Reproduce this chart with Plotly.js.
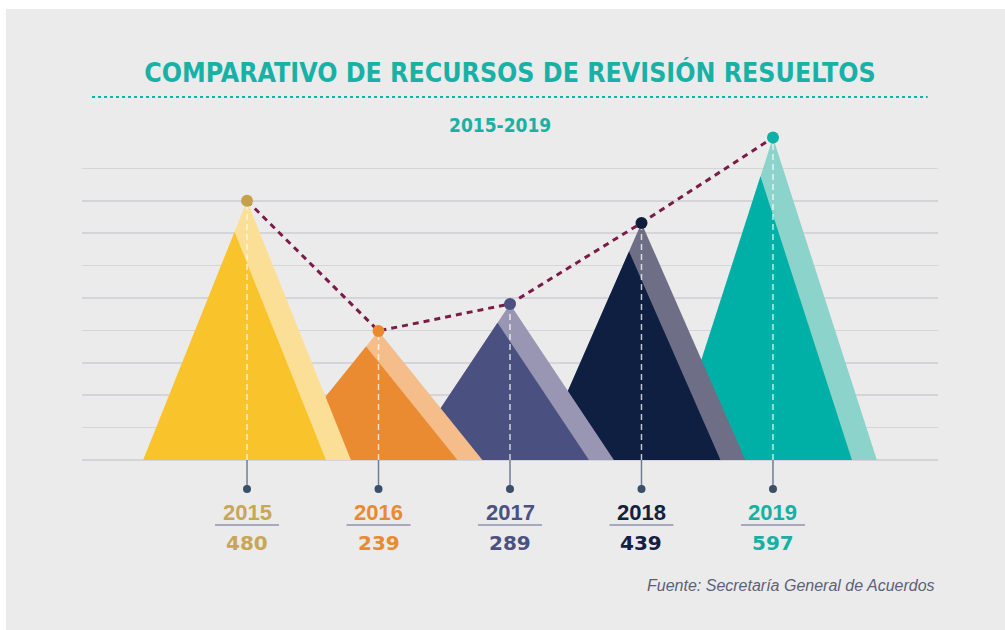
<!DOCTYPE html>
<html>
<head>
<meta charset="utf-8">
<script src="https://cdn.plot.ly/plotly-3.0.1.min.js"></script>
<style>
  html, body { margin: 0; padding: 0; background: #ffffff; }
  #chart { position: absolute; left: 6px; top: 9px; width: 999px; height: 621px; }
</style>
</head>
<body>
<div id="chart"></div>
<script>
// ---- data ----
const years = [2015, 2016, 2017, 2018, 2019];
const values = [480, 239, 289, 439, 597];
const yearLabels = ['2015', '2016', '2017', '2018', '2019'];
const mainColors = ['#f9c42b', '#ea8a31', '#4a5080', '#0e1f42', '#00b0a6'];
const lightColors = ['#fcdf97', '#f4bd8a', '#9996b4', '#6e6e86', '#8bd3cb'];
const dotColors = ['#c4a24c', '#ea8a2f', '#4b5180', '#111c3c', '#0db0a4'];
const labelColors = ['#c8a656', '#ea8a2f', '#4b5180', '#13203f', '#17b0a3'];
const gridVals = [0, 60, 120, 180, 240, 300, 360, 420, 480, 540];

// ---- style constants ----
const HW = 0.79;   // half base width of a peak, in x units
const K = 0.88;    // scale of the front (dark) triangle
const TEAL = '#18b1a5';

const traces = [];
// back-to-front: later years behind earlier years
for (let i = years.length - 1; i >= 0; i--) {
  const x = years[i], v = values[i];
  const L = x - HW;
  traces.push({
    type: 'scatter', mode: 'lines', fill: 'toself',
    x: [L, x, x + HW, L], y: [0, v, 0, 0],
    line: { width: 0, color: lightColors[i] }, fillcolor: lightColors[i],
    hoverinfo: 'skip', showlegend: false
  });
  traces.push({
    type: 'scatter', mode: 'lines', fill: 'toself',
    x: [L, L + K * HW, L + 2 * K * HW, L], y: [0, K * v, 0, 0],
    line: { width: 0, color: mainColors[i] }, fillcolor: mainColors[i],
    hoverinfo: 'skip', showlegend: false
  });
}
// white dashed center lines
for (let i = 0; i < years.length; i++) {
  traces.push({
    type: 'scatter', mode: 'lines',
    x: [years[i], years[i]], y: [0, values[i]],
    line: { color: 'rgba(255,255,255,0.75)', width: 1.5, dash: '6px,4px' },
    hoverinfo: 'skip', showlegend: false
  });
}
// maroon dashed trend line
traces.push({
  type: 'scatter', mode: 'lines',
  x: years, y: values,
  line: { color: '#7b1c48', width: 3, dash: '6px,5px' },
  hoverinfo: 'skip', showlegend: false
});
// apex dots
traces.push({
  type: 'scatter', mode: 'markers',
  x: years, y: values,
  marker: { color: dotColors, size: 12 },
  cliponaxis: false,
  hoverinfo: 'skip', showlegend: false
});

const shapes = [];
const annotations = [];
for (let i = 0; i < years.length; i++) {
  // connector below baseline
  shapes.push({
    type: 'line', xref: 'x', yref: 'y', ysizemode: 'pixel', yanchor: 0,
    x0: years[i], x1: years[i], y0: 0, y1: -28,
    line: { color: '#707d92', width: 1.5 }, layer: 'above'
  });
  shapes.push({
    type: 'circle', xref: 'x', yref: 'y', xsizemode: 'pixel', ysizemode: 'pixel',
    xanchor: years[i], yanchor: 0,
    x0: -4, x1: 4, y0: -25, y1: -33,
    fillcolor: '#3a4f68', line: { width: 0 }
  });
  // underline between year and value
  shapes.push({
    type: 'line', xref: 'x', yref: 'y', xsizemode: 'pixel', ysizemode: 'pixel',
    xanchor: years[i], yanchor: 0,
    x0: -32, x1: 32, y0: -65, y1: -65,
    line: { color: '#a8a9bf', width: 2 }
  });
  annotations.push({
    xref: 'x', yref: 'y', x: years[i], y: 0, yshift: -53,
    text: '<b>' + yearLabels[i] + '</b>', showarrow: false, xanchor: 'center', yanchor: 'middle',
    font: { family: 'Liberation Sans, Arial, sans-serif', size: 22, color: labelColors[i] }
  });
  annotations.push({
    xref: 'x', yref: 'y', x: years[i], y: 0, yshift: -83,
    text: '<b>' + String(values[i]) + '</b>', showarrow: false, xanchor: 'center', yanchor: 'middle',
    font: { family: 'DejaVu Sans, sans-serif', size: 20, color: labelColors[i] }
  });
}
// dotted rule under the title
shapes.push({
  type: 'line', xref: 'paper', yref: 'paper',
  x0: 0.0117, x1: 0.988, y0: 1.0702, y1: 1.0702,
  line: { color: TEAL, width: 2, dash: '3px,3px' }
});
annotations.push({
  xref: 'paper', yref: 'paper', x: 0.4883, y: 1.0106,
  text: '<b>2015-2019</b>', showarrow: false, xanchor: 'center', yanchor: 'middle',
  font: { family: 'DejaVu Sans Condensed, sans-serif', size: 19, color: TEAL }
});
annotations.push({
  xref: 'paper', yref: 'paper', x: 0.9988, y: 0.0319,
  text: '<i>Fuente: Secretaría General de Acuerdos</i>', showarrow: false,
  xanchor: 'right', yanchor: 'middle',
  font: { family: 'Liberation Sans, sans-serif', size: 16, color: '#5b6178' }
});

const layout = {
  width: 999, height: 621,
  margin: { l: 76, r: 67, t: 121, b: 30 },
  paper_bgcolor: '#ebebec', plot_bgcolor: '#ebebec',
  title: {
    text: '<b>COMPARATIVO DE RECURSOS DE REVISIÓN RESUELTOS</b>',
    x: 0.5045, xanchor: 'center', y: 0.898, yanchor: 'middle', yref: 'container',
    font: { family: 'DejaVu Sans Condensed, sans-serif', size: 26.5, color: TEAL }
  },
  xaxis: {
    range: [2013.745, 2020.255], showgrid: false, zeroline: false,
    showticklabels: false, ticks: '', fixedrange: true
  },
  yaxis: {
    range: [-259.3, 611.1], tickmode: 'array', tickvals: gridVals,
    showgrid: true, gridcolor: '#d5d5d9', gridwidth: 1.5,
    zeroline: false, showticklabels: false, ticks: '', fixedrange: true
  },
  shapes: shapes,
  annotations: annotations,
  showlegend: false,
  hovermode: false
};

Plotly.newPlot('chart', traces, layout, { displayModeBar: false, staticPlot: true });
</script>
</body>
</html>
